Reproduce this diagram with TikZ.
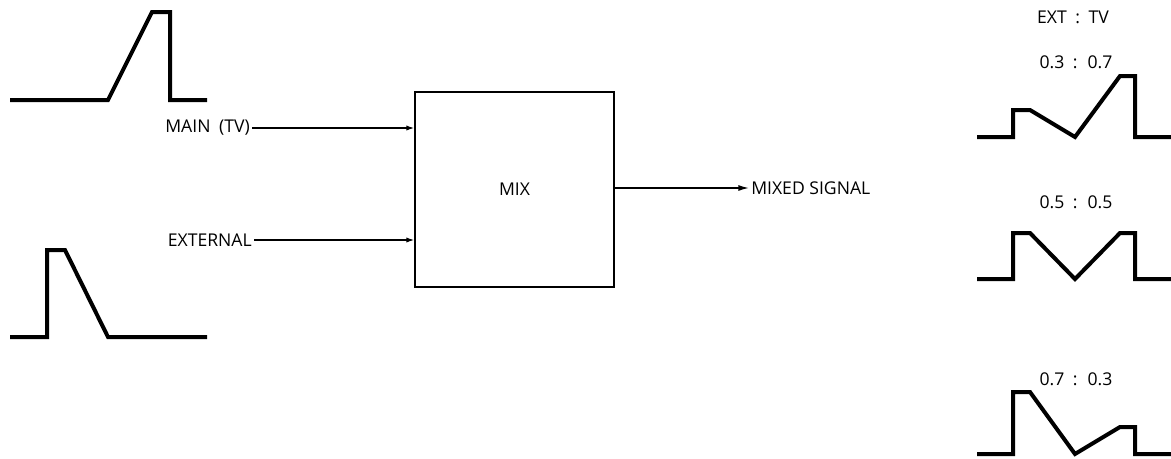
\documentclass[tikz,border=0pt]{standalone}
\usepackage{fontspec}
\setmainfont{Open Sans}
\usetikzlibrary{arrows.meta}
\begin{document}
\begin{tikzpicture}[x=0.75pt,y=-0.75pt,
  lbl/.style={font=\fontsize{13.2}{15}\selectfont, inner sep=1.5pt},
  wave/.style={line width=3pt, line join=miter},
  conn/.style={line width=1pt, -{Latex[length=6pt,width=4pt]}},
  mixbox/.style={draw, line width=1.1pt, minimum width=199*0.75pt, minimum height=195*0.75pt, inner sep=0pt}]
\useasboundingbox (0,0) rectangle (1171,458);
% waveforms left
\draw[wave] (10,100) -- (108,100) -- (152,12) -- (170,12) -- (170,100) -- (207,100);
\draw[wave] (10,337) -- (47,337) -- (47,250) -- (65,250) -- (108,337) -- (207,337);
% box
\node[mixbox, lbl] (mix) at (514.5,189.5) {MIX};
\node[lbl, anchor=east] (main) at (252,128) {MAIN\hspace{3pt} (TV)};
\node[lbl, anchor=east] (ext) at (254,240) {EXTERNAL};
\node[lbl, anchor=west] (out) at (749,188) {MIXED SIGNAL};
\draw[conn] (main.east) -- (main.east -| mix.west);
\draw[conn] (ext.east) -- (ext.east -| mix.west);
\draw[conn, -{Latex[length=8pt,width=4.5pt]}] (mix.east |- out.west) -- (out.west);
% right side
\node[lbl] (hdr) at (1073,17) {EXT\hspace{3pt} : \hspace{3pt}TV};
\node[lbl] (r1) at (1076,62) {0.3\hspace{3pt} : \hspace{3pt}0.7};
\node[lbl] (r2) at (1076,202) {0.5\hspace{3pt} : \hspace{3pt}0.5};
\node[lbl] (r3) at (1076,379) {0.7\hspace{3pt} : \hspace{3pt}0.3};
\draw[wave] (977,137) -- (1013,137) -- (1013,110) -- (1030,110) -- (1075,137) -- (1120,76) -- (1135,76) -- (1135,137) -- (1171,137);
\draw[wave] (977,279) -- (1013,279) -- (1013,233) -- (1030,233) -- (1075,279) -- (1120,233) -- (1135,233) -- (1135,279) -- (1171,279);
\draw[wave] (977,454) -- (1013,454) -- (1013,392) -- (1030,392) -- (1075,454) -- (1120,427) -- (1135,427) -- (1135,454) -- (1171,454);
\end{tikzpicture}
\end{document}
